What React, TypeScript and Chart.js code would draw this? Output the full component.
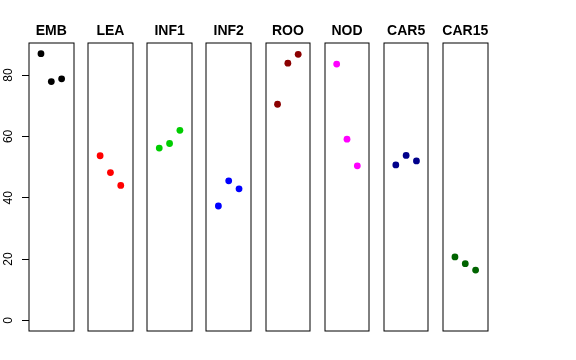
import React, { useEffect, useRef } from "react";
import { Chart, registerables } from "chart.js";

Chart.register(...registerables);

// ---- data ----
const panelNames = ["EMB", "LEA", "INF1", "INF2", "ROO", "NOD", "CAR5", "CAR15"];
const xPositions = [1, 2, 3];
const embValues = [87.0, 77.9, 78.8];
const leaValues = [53.7, 48.2, 44.0];
const inf1Values = [56.2, 57.7, 62.0];
const inf2Values = [37.3, 45.5, 42.9];
const rooValues = [70.5, 83.9, 86.8];
const nodValues = [83.6, 59.1, 50.4];
const car5Values = [50.7, 53.8, 52.0];
const car15Values = [20.7, 18.5, 16.4];
const panelValues = [embValues, leaValues, inf1Values, inf2Values, rooValues, nodValues, car5Values, car15Values];
const panelColors = ["#000000", "#FF0000", "#00CD00", "#0000FF", "#8B0000", "#FF00FF", "#00008B", "#006400"];
const yTicks = [0, 20, 40, 60, 80];
const yLimits = [0, 87];
const xLimits = [0, 4];

// ---- layout ----
const W = 576;
const H = 360;
const FIRST_LEFT = 29;
const STEP = 59.14;
const BOX_W = 44.6;
const BOX_TOP = 43;
const BOX_BOTTOM = 331;
const SIDE = 20;
const FONT = '"Liberation Sans", Arial, Helvetica, sans-serif';

function ext(lim: number[]) {
  const d = (lim[1] - lim[0]) * 0.04;
  return [lim[0] - d, lim[1] + d];
}

function Panel({ index }: { index: number }) {
  const ref = useRef<HTMLCanvasElement | null>(null);
  const boxLeft = FIRST_LEFT + STEP * index;
  const canvasLeft = index === 0 ? 0 : Math.floor(boxLeft) - SIDE;
  const canvasWidth = Math.ceil(boxLeft + BOX_W) + SIDE - canvasLeft;

  useEffect(() => {
    const canvas = ref.current;
    if (!canvas) return;
    const [ymin, ymax] = ext(yLimits);
    const [xmin, xmax] = ext(xLimits);
    const name = panelNames[index];
    const color = panelColors[index];
    const boxPlugin = {
      id: "boxTitle",
      afterDraw(chart: any) {
        const { ctx, chartArea } = chart;
        const l = Math.round(chartArea.left);
        const r = Math.round(chartArea.right);
        const t = Math.round(chartArea.top);
        const b = Math.round(chartArea.bottom);
        ctx.save();
        ctx.strokeStyle = "#000";
        ctx.lineWidth = 1;
        ctx.strokeRect(l, t, r - l, b - t);
        ctx.font = "bold 14px " + FONT;
        ctx.fillStyle = "#000";
        ctx.textAlign = "center";
        ctx.textBaseline = "alphabetic";
        ctx.fillText(name, (chartArea.left + chartArea.right) / 2, 34.5);
        ctx.restore();
      },
    };
    const yScale: any = {
      type: "linear",
      min: ymin,
      max: ymax,
      display: index === 0,
      afterBuildTicks: (s: any) => {
        s.ticks = yTicks.map((v) => ({ value: v }));
      },
      grid: {
        drawOnChartArea: false,
        drawTicks: true,
        tickLength: 7,
        color: "#000",
        lineWidth: 1,
      },
      border: { display: false },
      ticks: {
        minRotation: 90,
        maxRotation: 90,
        crossAlign: "center",
        padding: 7,
        color: "#000",
        font: { family: FONT, size: 12 },
      },
    };
    if (index === 0) {
      yScale.afterFit = (s: any) => {
        s.width = FIRST_LEFT;
      };
    }
    const chart = new Chart(canvas, {
      type: "scatter",
      data: {
        datasets: [
          {
            data: xPositions.map((x, j) => ({ x, y: panelValues[index][j] })),
            backgroundColor: color,
            borderColor: color,
            pointRadius: 3.4,
            pointBorderWidth: 0,
            showLine: false,
          },
        ],
      },
      options: {
        animation: false,
        responsive: false,
        devicePixelRatio: 1,
        layout: {
          padding: {
            top: BOX_TOP,
            bottom: H - BOX_BOTTOM,
            left: index === 0 ? 0 : boxLeft - canvasLeft,
            right: canvasLeft + canvasWidth - (boxLeft + BOX_W),
          },
        },
        plugins: {
          legend: { display: false },
          tooltip: { enabled: false },
          title: { display: false },
        },
        scales: {
          x: {
            type: "linear",
            min: xmin,
            max: xmax,
            display: false,
          },
          y: yScale,
        },
      },
      plugins: [boxPlugin],
    } as any);
    return () => chart.destroy();
  }, [index]);

  return (
    <canvas
      ref={ref}
      width={canvasWidth}
      height={H}
      style={{ position: "absolute", left: canvasLeft, top: 0, width: canvasWidth, height: H }}
    />
  );
}

export default function App() {
  return (
    <div style={{ position: "fixed", left: 0, top: 0, width: W, height: H, background: "#fff", overflow: "hidden" }}>
      {panelNames.map((_, i) => (
        <Panel key={i} index={i} />
      ))}
    </div>
  );
}
